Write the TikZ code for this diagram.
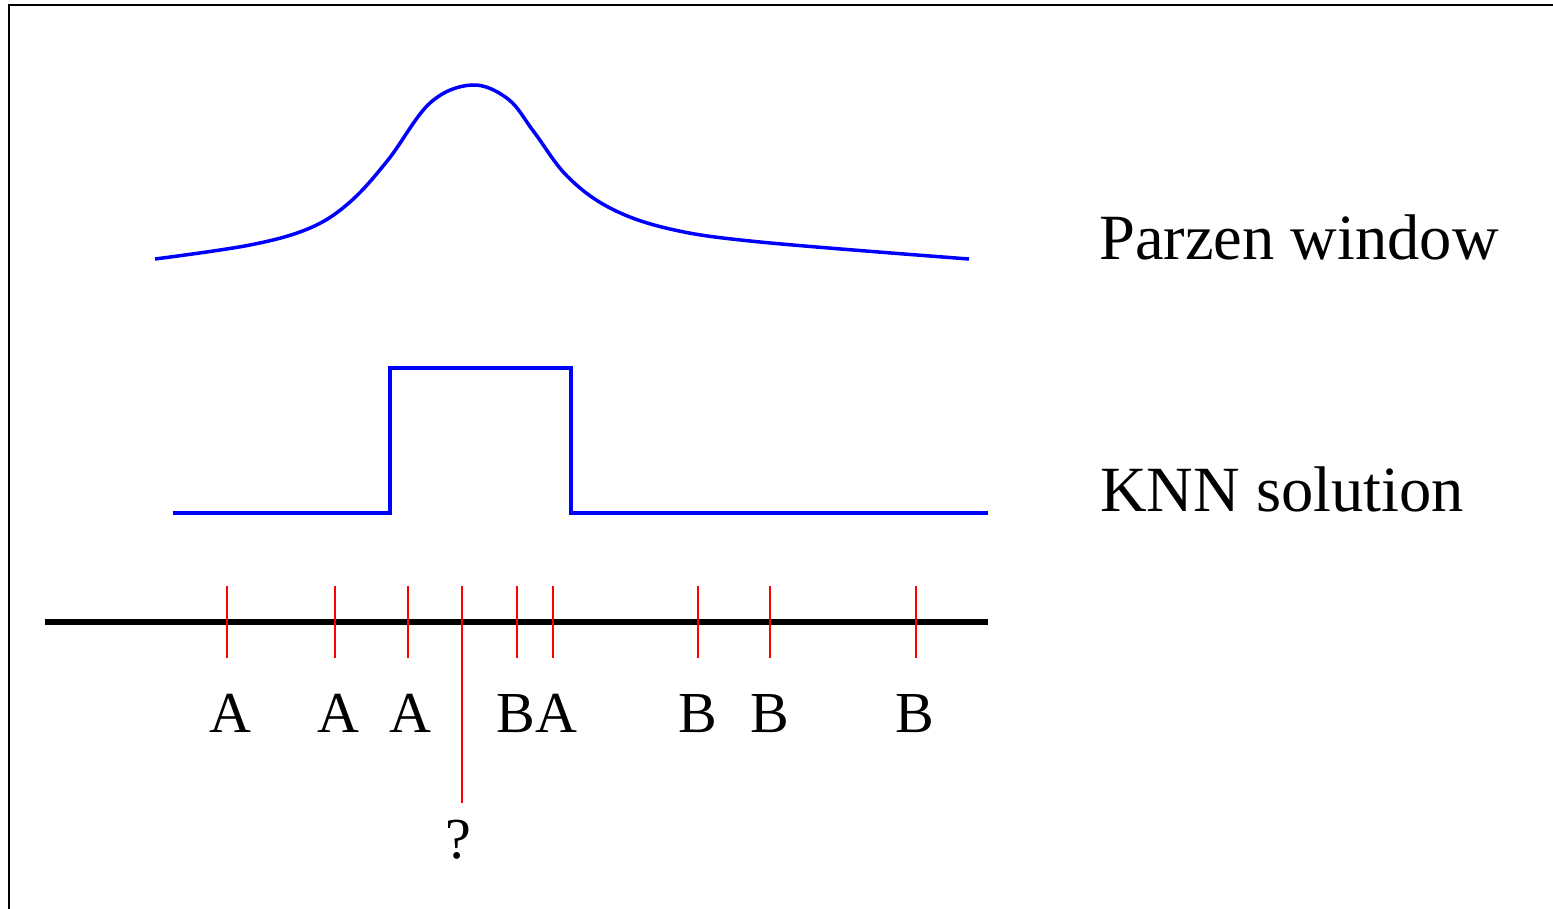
\documentclass[tikz,border=0pt]{standalone}
\usepackage{fontspec}
\setmainfont{Liberation Serif}
\begin{document}
\begin{tikzpicture}[x=1pt,y=-1pt,
  curve/.style={blue,line width=3.5pt},
  tick/.style={red,line width=2pt},
  axisline/.style={black,line width=6pt},
  frameline/.style={black,line width=2.2pt},
  lbl/.style={anchor=base,inner sep=0pt,font=\fontsize{58}{60}\selectfont},
  bigtext/.style={anchor=base west,inner sep=0pt,font=\fontsize{64.5}{70}\selectfont}]
\useasboundingbox (0,0) rectangle (1553,909);
% frame (extends beyond the picture)
\draw[frameline] (9,930) -- (9,5) -- (1580,5);
% Parzen window curve
\draw[curve] plot[smooth,tension=0.6] coordinates {
 (155,259) (250,245) (310,228) (350,202) (388,160) (430,103) (472,85)
 (508,99) (534,132) (567,176) (610,208) (670,229) (760,242) (969,259)};
% KNN step
\draw[curve] (173,513) -- (390,513) -- (390,368) -- (571,368) -- (571,513) -- (988,513);
% axis
\coordinate (axL) at (45,622);
\coordinate (axR) at (988,622);
\draw[axisline] (axL) -- (axR);
% ticks
\foreach \i/\x in {1/227,2/335,3/408,5/517,6/553,7/698,8/770,9/916}{
  \coordinate (t\i a) at (\x,586);
  \coordinate (t\i b) at (\x,658);
  \draw[tick] (t\i a) -- (t\i b);
}
\coordinate (qa) at (462,586);
\coordinate (qb) at (462,803);
\draw[tick] (qa) -- (qb);
% labels
\node[lbl] (l1) at (230,732) {A};
\node[lbl] (l2) at (338,732) {A};
\node[lbl] (l3) at (410,732) {A};
\node[lbl] (l4) at (537,732) {BA};
\node[lbl] (l5) at (698,732) {B};
\node[lbl] (l6) at (770,732) {B};
\node[lbl] (l7) at (915,732) {B};
\node[lbl] (q) at (458,858) {?};
\node[bigtext] (parzen) at (1099,260) {Parzen window};
\node[bigtext] (knn) at (1100,511) {KNN solution};
\end{tikzpicture}
\end{document}
